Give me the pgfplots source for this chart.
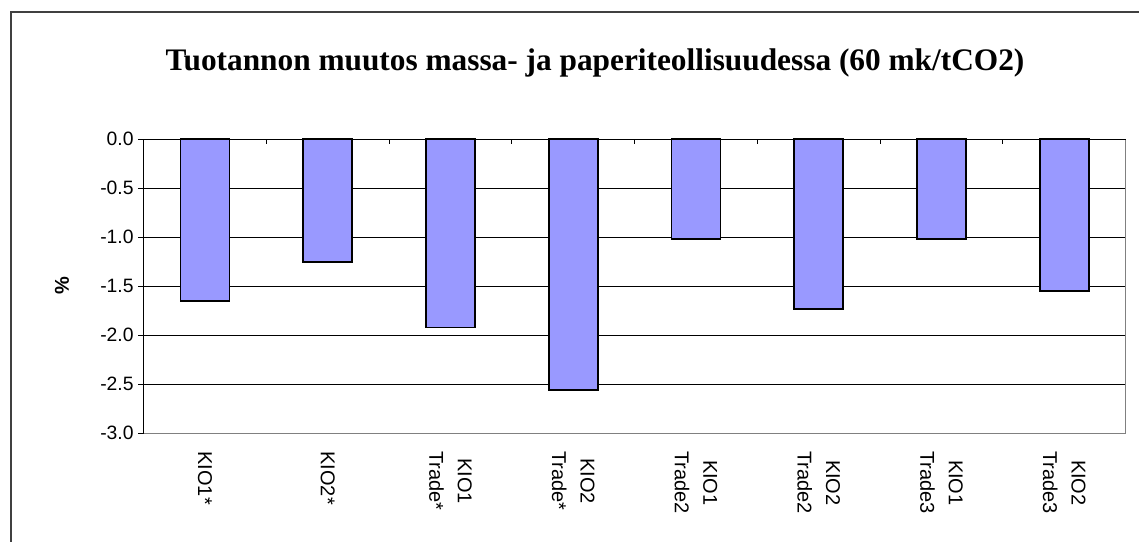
\documentclass[border=0pt]{standalone}
\usepackage{fontspec}
\usepackage{pgfplots}
\pgfplotsset{compat=1.18}
\setmainfont{Liberation Sans}
\newfontfamily\titlefont{Liberation Serif}
\definecolor{barblue}{HTML}{9999FF}
\definecolor{framegray}{HTML}{808080}

\begin{document}
\begin{tikzpicture}[x=0.75pt,y=0.75pt]
% page = 1139 x 542 px
\path[use as bounding box] (0,0) rectangle (1139,542);
% chart area border (top and left only)
\draw[line width=1.1pt, black!75] (11,0) -- (11,530) -- (1139,530);

\node[anchor=base, font=\titlefont\bfseries\fontsize{23.5}{26}\selectfont]
  at (595,471) {Tuotannon muutos massa- ja paperiteollisuudessa (60 mk/tCO2)};
\node[rotate=90, font=\bfseries\fontsize{15}{17}\selectfont] at (62,256) {\%};

\begin{axis}[
    at={(117,111)}, anchor=south west,
    scale only axis,
    width=736.5pt, height=220.5pt,
    xmin=0.5, xmax=8.5,
    ymin=-3, ymax=0,
    axis line style={draw=none},
    xtick={1,2,3,4,5,6,7,8},
    xticklabels={{KIO1*},{KIO2*},{KIO1\\Trade*},{KIO2\\Trade*},{KIO1\\Trade2},{KIO2\\Trade2},{KIO1\\Trade3},{KIO2\\Trade3}},
    xtick style={draw=none},
    xticklabel style={rotate=-90, anchor=west, align=center,
        font=\fontsize{15}{21.5}\selectfont, inner sep=0pt},
    xticklabel shift=9.5pt,
    ytick={-3,-2.5,-2,-1.5,-1,-0.5,0},
    yticklabels={-3.0,-2.5,-2.0,-1.5,-1.0,-0.5,0.0},
    ytick pos=left,
    yticklabel style={font=\fontsize{14.5}{16}\selectfont},
    ytick style={black, line width=0.6pt},
    tick align=outside,
    major tick length=4pt,
    ymajorgrids,
    grid style={black, line width=0.7pt},
    clip=false,
]
\addplot[ybar, bar width=36.75pt, fill=barblue, draw=black, line width=1.2pt]
  coordinates {(1,-1.65) (2,-1.25) (3,-1.92) (4,-2.56)
               (5,-1.02) (6,-1.735) (7,-1.02) (8,-1.55)};
% plot area frame
\draw[framegray, line width=1pt] (axis cs:0.5,-3) -- (axis cs:8.5,-3) -- (axis cs:8.5,0);
\draw[black, line width=0.9pt] (axis cs:0.5,-3) -- (axis cs:0.5,0) -- (axis cs:8.5,0);
% category axis ticks on the zero line
\draw[black, line width=0.6pt] (axis cs:1.5,0) -- (axis cs:1.5,-0.05);
\draw[black, line width=0.6pt] (axis cs:2.5,0) -- (axis cs:2.5,-0.05);
\draw[black, line width=0.6pt] (axis cs:3.5,0) -- (axis cs:3.5,-0.05);
\draw[black, line width=0.6pt] (axis cs:4.5,0) -- (axis cs:4.5,-0.05);
\draw[black, line width=0.6pt] (axis cs:5.5,0) -- (axis cs:5.5,-0.05);
\draw[black, line width=0.6pt] (axis cs:6.5,0) -- (axis cs:6.5,-0.05);
\draw[black, line width=0.6pt] (axis cs:7.5,0) -- (axis cs:7.5,-0.05);
\end{axis}
\end{tikzpicture}
\end{document}
